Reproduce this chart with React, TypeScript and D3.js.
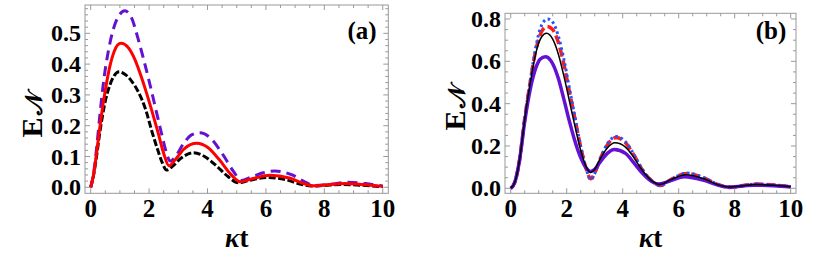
import React from 'react';
import * as d3 from 'd3';

// panel (a): time points and values for each curve
const aPurpleT = [0, 0.1, 0.2, 0.32, 0.45, 0.6, 0.75, 0.95, 1.17, 1.4, 1.6, 1.8, 2.0, 2.25, 2.45, 2.6, 2.72, 2.9, 3.2, 3.45, 3.74, 4.1, 4.5, 4.9, 5.15, 5.5, 5.9, 6.3, 6.9, 7.4, 7.65, 8.2, 8.8, 9.4, 10];
const aPurpleV = [0, 0.045, 0.125, 0.24, 0.35, 0.44, 0.505, 0.555, 0.573, 0.55, 0.49, 0.42, 0.345, 0.245, 0.165, 0.11, 0.085, 0.1, 0.145, 0.17, 0.177, 0.16, 0.11, 0.05, 0.022, 0.033, 0.047, 0.053, 0.04, 0.014, 0.006, 0.01, 0.016, 0.012, 0.004];

const aRedT = [0, 0.1, 0.2, 0.3, 0.4, 0.5, 0.65, 0.8, 0.92, 1.04, 1.3, 1.5, 1.7, 1.9, 2.09, 2.3, 2.5, 2.68, 2.9, 3.2, 3.63, 4.0, 4.4, 4.8, 5.12, 5.5, 6.15, 6.8, 7.3, 7.6, 8.1, 8.7, 9.3, 10];
const aRedV = [0, 0.042, 0.11, 0.185, 0.255, 0.315, 0.39, 0.44, 0.462, 0.468, 0.452, 0.418, 0.368, 0.31, 0.25, 0.18, 0.11, 0.07, 0.09, 0.125, 0.143, 0.13, 0.09, 0.042, 0.018, 0.027, 0.039, 0.03, 0.012, 0.005, 0.008, 0.012, 0.009, 0.003];

const aBlackT = [0, 0.1, 0.2, 0.3, 0.4, 0.5, 0.65, 0.8, 0.98, 1.2, 1.4, 1.63, 1.89, 2.1, 2.3, 2.45, 2.6, 2.8, 3.1, 3.51, 3.9, 4.3, 4.7, 5.05, 5.4, 6.05, 6.7, 7.2, 7.55, 8.0, 8.6, 9.2, 10];
const aBlackV = [0, 0.04, 0.1, 0.17, 0.23, 0.28, 0.33, 0.362, 0.375, 0.365, 0.345, 0.31, 0.25, 0.18, 0.12, 0.08, 0.056, 0.068, 0.095, 0.112, 0.1, 0.07, 0.035, 0.015, 0.022, 0.032, 0.024, 0.01, 0.004, 0.006, 0.009, 0.007, 0.002];

// panel (b)
const bBlueT = [0, 0.15, 0.3, 0.5, 0.7, 0.9, 1.1, 1.32, 1.5, 1.7, 1.9, 2.1, 2.3, 2.5, 2.7, 2.86, 3.0, 3.2, 3.45, 3.78, 4.1, 4.4, 4.7, 5.0, 5.35, 5.7, 6.3, 6.9, 7.4, 7.85, 8.3, 8.8, 9.4, 10];
const bBlueV = [0, 0.03, 0.12, 0.33, 0.51, 0.67, 0.77, 0.8, 0.785, 0.72, 0.61, 0.47, 0.335, 0.2, 0.09, 0.04, 0.07, 0.14, 0.21, 0.245, 0.22, 0.16, 0.09, 0.04, 0.012, 0.04, 0.072, 0.05, 0.018, 0.004, 0.013, 0.02, 0.016, 0.008];

const bRedT = [0, 0.15, 0.3, 0.5, 0.7, 0.9, 1.1, 1.3, 1.5, 1.7, 1.9, 2.1, 2.3, 2.5, 2.7, 2.86, 3.0, 3.2, 3.45, 3.76, 4.1, 4.4, 4.7, 5.0, 5.35, 5.7, 6.3, 6.9, 7.4, 7.85, 8.3, 8.8, 9.4, 10];
const bRedV = [0, 0.03, 0.12, 0.33, 0.505, 0.655, 0.74, 0.765, 0.75, 0.69, 0.585, 0.455, 0.325, 0.195, 0.09, 0.045, 0.072, 0.14, 0.205, 0.24, 0.215, 0.157, 0.088, 0.04, 0.013, 0.04, 0.07, 0.049, 0.018, 0.004, 0.013, 0.02, 0.016, 0.008];

const bBlackT = [0, 0.15, 0.3, 0.5, 0.7, 0.9, 1.1, 1.28, 1.5, 1.7, 1.9, 2.1, 2.3, 2.5, 2.7, 2.85, 3.0, 3.2, 3.45, 3.72, 4.1, 4.4, 4.7, 5.0, 5.33, 5.7, 6.25, 6.9, 7.4, 7.8, 8.3, 8.75, 9.4, 10];
const bBlackV = [0, 0.03, 0.12, 0.325, 0.5, 0.64, 0.715, 0.733, 0.705, 0.635, 0.53, 0.41, 0.29, 0.18, 0.1, 0.075, 0.09, 0.14, 0.19, 0.215, 0.195, 0.145, 0.085, 0.04, 0.018, 0.04, 0.064, 0.045, 0.017, 0.006, 0.012, 0.018, 0.014, 0.007];

const bPurpleT = [0, 0.15, 0.3, 0.5, 0.7, 0.9, 1.05, 1.24, 1.45, 1.7, 1.9, 2.1, 2.3, 2.5, 2.7, 2.85, 3.0, 3.2, 3.45, 3.7, 4.1, 4.4, 4.7, 5.0, 5.3, 5.7, 6.2, 6.9, 7.4, 7.75, 8.3, 8.7, 9.4, 10];
const bPurpleV = [0, 0.03, 0.12, 0.315, 0.47, 0.57, 0.61, 0.622, 0.6, 0.52, 0.42, 0.315, 0.22, 0.145, 0.095, 0.08, 0.09, 0.125, 0.165, 0.183, 0.165, 0.12, 0.072, 0.035, 0.02, 0.035, 0.055, 0.038, 0.015, 0.006, 0.011, 0.015, 0.012, 0.006];

const xMajor = [0, 2, 4, 6, 8, 10];
const aYMajor = [0, 0.1, 0.2, 0.3, 0.4, 0.5];
const bYMajor = [0, 0.2, 0.4, 0.6, 0.8];

const bold = { fontFamily: "'Liberation Serif'", fontWeight: 'bold' as const };

type Curve = { t: number[]; v: number[]; color: string; width: number; dash?: string };

type PanelProps = {
  left: number; right: number; top: number; bottom: number;
  xDom: [number, number]; yDom: [number, number];
  yMajor: number[]; yMinorStep: number;
  curves: Curve[]; tag: string; tagX: number;
  yLabelX: number; yLabelY: number;
};

const Panel = (p: PanelProps) => {
  const x = d3.scaleLinear().domain(p.xDom).range([p.left, p.right]);
  const y = d3.scaleLinear().domain(p.yDom).range([p.bottom, p.top]);
  const line = d3.line<[number, number]>()
    .x(d => x(d[0]))
    .y(d => y(d[1]))
    .curve(d3.curveMonotoneX);

  const xMinor = d3.range(0, 10.001, 0.5).filter(v => v % 2 !== 0);
  const yMinor = d3.range(0, p.yDom[1], p.yMinorStep)
    .filter(v => !p.yMajor.some(m => Math.abs(m - v) < 1e-6));
  const tickColor = '#999';

  return (
    <g>
      {p.curves.map((c, i) => (
        <path key={i} d={line(c.t.map((t, j) => [t, c.v[j]] as [number, number])) || ''}
          fill="none" stroke={c.color} strokeWidth={c.width} strokeDasharray={c.dash} />
      ))}
      <rect x={p.left} y={p.top} width={p.right - p.left} height={p.bottom - p.top}
        fill="none" stroke={tickColor} strokeWidth={1} />
      {/* frame ticks on all four sides */}
      {xMajor.map(v => (
        <g key={'xm' + v}>
          <line x1={x(v)} x2={x(v)} y1={p.bottom} y2={p.bottom - 5} stroke={tickColor} />
          <line x1={x(v)} x2={x(v)} y1={p.top} y2={p.top + 5} stroke={tickColor} />
        </g>
      ))}
      {xMinor.map(v => (
        <g key={'xn' + v}>
          <line x1={x(v)} x2={x(v)} y1={p.bottom} y2={p.bottom - 3} stroke={tickColor} />
          <line x1={x(v)} x2={x(v)} y1={p.top} y2={p.top + 3} stroke={tickColor} />
        </g>
      ))}
      {p.yMajor.map(v => (
        <g key={'ym' + v}>
          <line x1={p.left} x2={p.left + 5} y1={y(v)} y2={y(v)} stroke={tickColor} />
          <line x1={p.right} x2={p.right - 5} y1={y(v)} y2={y(v)} stroke={tickColor} />
        </g>
      ))}
      {yMinor.map(v => (
        <g key={'yn' + v}>
          <line x1={p.left} x2={p.left + 3} y1={y(v)} y2={y(v)} stroke={tickColor} />
          <line x1={p.right} x2={p.right - 3} y1={y(v)} y2={y(v)} stroke={tickColor} />
        </g>
      ))}
      {xMajor.map(v => (
        <text key={'xl' + v} x={x(v)} y={217} textAnchor="middle"
          style={{ ...bold, fontSize: 25 }}>{v}</text>
      ))}
      {p.yMajor.map(v => (
        <text key={'yl' + v} x={p.left - 4} y={y(v)} dy="0.34em" textAnchor="end"
          style={{ ...bold, fontSize: 24 }}>{v.toFixed(1)}</text>
      ))}
      <text x={(x(0) + x(10)) / 2} y={247} textAnchor="middle" style={{ ...bold, fontSize: 27 }}>
        <tspan style={{ fontStyle: 'italic' }}>κ</tspan>t
      </text>
      <text transform={`translate(${p.yLabelX},${p.yLabelY}) rotate(-90)`} textAnchor="middle"
        style={{ ...bold, fontSize: 30 }}>
        E<tspan dx={2} style={{ fontSize: 24 }}>𝒩</tspan>
      </text>
      <text x={p.tagX} y={39} textAnchor="middle" style={{ ...bold, fontSize: 25 }}>{p.tag}</text>
    </g>
  );
};

const App = () => {
  const purple = '#6411d4';
  return (
    <svg width={830} height={269} style={{ position: 'absolute', left: 0, top: 0, background: '#fff' }}>
      <Panel left={85} right={388.3} top={5} bottom={193.3}
        xDom={[-0.195, 10.19]} yDom={[-0.0195, 0.592]}
        yMajor={aYMajor} yMinorStep={0.02}
        tag="(a)" tagX={362} yLabelX={42} yLabelY={115}
        curves={[
          { t: aBlackT, v: aBlackV, color: '#000', width: 3, dash: '7,2.5' },
          { t: aPurpleT, v: aPurpleV, color: purple, width: 3, dash: '10,6' },
          { t: aRedT, v: aRedV, color: '#ff0000', width: 3 },
        ]} />
      <Panel left={505} right={796} top={13.3} bottom={193.3}
        xDom={[-0.204, 10.19]} yDom={[-0.0236, 0.827]}
        yMajor={bYMajor} yMinorStep={0.05}
        tag="(b)" tagX={771} yLabelX={465} yLabelY={108}
        curves={[
          { t: bRedT, v: bRedV, color: '#ff1a1a', width: 3.5, dash: '9,4' },
          { t: bBlueT, v: bBlueV, color: '#1f55ff', width: 3, dash: '2.5,3' },
          { t: bPurpleT, v: bPurpleV, color: purple, width: 3.5 },
          { t: bBlackT, v: bBlackV, color: '#000', width: 1.5 },
        ]} />
    </svg>
  );
};

export default App;
